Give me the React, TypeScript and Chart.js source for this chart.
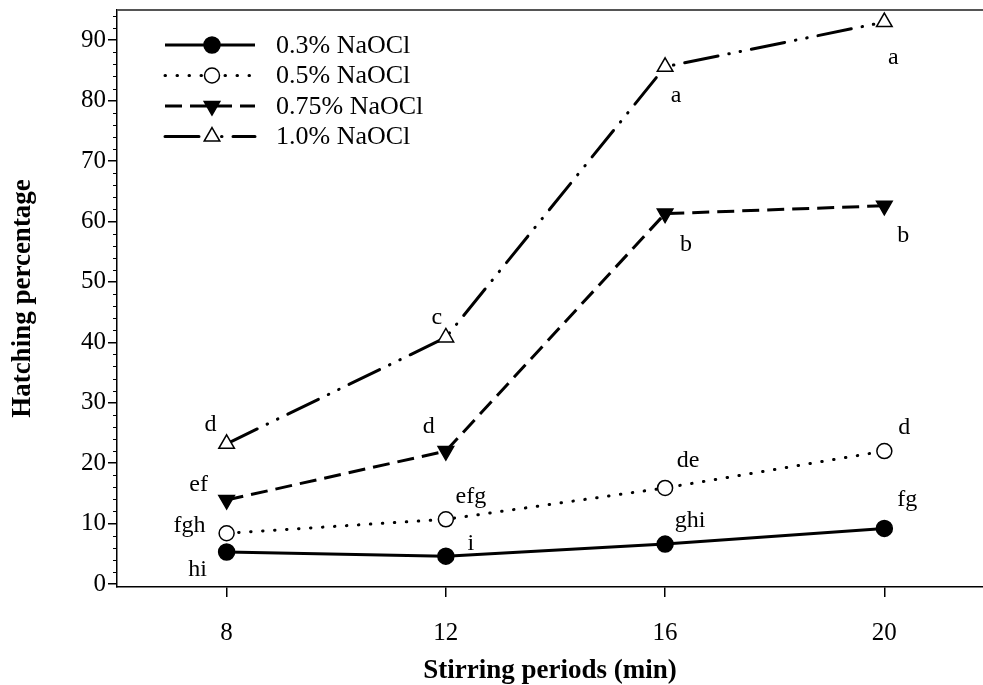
import React, { useEffect, useRef } from 'react';
import { Chart, registerables } from 'chart.js';

Chart.register(...registerables);

// ---- data ----
const stirringPeriods = [8, 12, 16, 20];
const seriesNames = ['0.3% NaOCl', '0.5% NaOCl', '0.75% NaOCl', '1.0% NaOCl'];
const naocl03 = [5.3, 4.6, 6.6, 9.2];
const naocl05 = [8.4, 10.7, 15.9, 22.0];
const naocl075 = [13.9, 22.0, 61.3, 62.6];
const naocl10 = [23.2, 40.8, 85.6, 93.0];
const letters03 = ['hi', 'i', 'ghi', 'fg'];
const letters05 = ['fgh', 'efg', 'de', 'd'];
const letters075 = ['ef', 'd', 'b', 'b'];
const letters10 = ['d', 'c', 'a', 'a'];
const yTicks = [0, 10, 20, 30, 40, 50, 60, 70, 80, 90];
const xTicks = [8, 12, 16, 20];
const xTitle = 'Stirring periods (min)';
const yTitle = 'Hatching percentage';

// ---- styles (not data) ----
const FONT = "'Liberation Serif', 'Times New Roman', serif";
const letterOffsets = [
  [[-29, 18], [25, -12], [25, -23], [23, -29]],
  [[-37, -8], [25, -23], [23, -27], [20, -23]],
  [[-28, -15], [-17, -24], [21, 31], [19, 30]],
  [[-16, -19], [-9, -20], [11, 29], [9, 36]],
];
const seriesStyles = [
  { dash: [], cap: 'butt', point: 'circle', radius: 8, fill: '#000', rot: 0 },
  { dash: [0.5, 11.5], cap: 'round', point: 'circle', radius: 7.5, fill: '#fff', rot: 0 },
  { dash: [17, 8], cap: 'butt', point: 'triangle', radius: 9, fill: '#000', rot: 180 },
  { dash: [34, 11, 0.5, 11, 0.5, 11], cap: 'round', point: 'triangle', radius: 9, fill: '#fff', rot: 0 },
];
const legendRows = [45, 75.5, 106, 136.5];

function drawMarker(ctx: CanvasRenderingContext2D, st: any, x: number, y: number) {
  ctx.save();
  ctx.setLineDash([]);
  ctx.lineWidth = 1.5;
  ctx.strokeStyle = '#000';
  ctx.fillStyle = st.fill;
  ctx.beginPath();
  const r = st.radius;
  if (st.point === 'circle') {
    ctx.arc(x, y, r, 0, Math.PI * 2);
  } else {
    let rad = (st.rot * Math.PI) / 180;
    for (let k = 0; k < 3; k++) {
      const px = x + Math.sin(rad) * r;
      const py = y - Math.cos(rad) * r;
      if (k === 0) ctx.moveTo(px, py);
      else ctx.lineTo(px, py);
      rad += (2 * Math.PI) / 3;
    }
    ctx.closePath();
  }
  ctx.fill();
  ctx.stroke();
  ctx.restore();
}

const decor = {
  id: 'decor',
  afterDraw(chart: any) {
    const ctx: CanvasRenderingContext2D = chart.ctx;
    const { left, right, top } = chart.chartArea;
    const y = chart.scales.y;
    ctx.save();
    // top frame
    ctx.strokeStyle = '#555';
    ctx.lineWidth = 2;
    ctx.beginPath();
    ctx.moveTo(left, top);
    ctx.lineTo(right, top);
    ctx.stroke();
    // minor y ticks
    ctx.strokeStyle = '#000';
    ctx.lineWidth = 1;
    for (let v = 2; v < 95; v += 2) {
      if (v % 10 === 0) continue;
      const py = Math.round(y.getPixelForValue(v)) + 0.5;
      ctx.beginPath();
      ctx.moveTo(left - 4, py);
      ctx.lineTo(left, py);
      ctx.stroke();
    }
    // letters
    const letterSets = [letters03, letters05, letters075, letters10];
    ctx.fillStyle = '#000';
    ctx.font = `24px ${FONT}`;
    ctx.textAlign = 'center';
    ctx.textBaseline = 'middle';
    letterSets.forEach((set, i) => {
      const meta = chart.getDatasetMeta(i);
      set.forEach((txt, j) => {
        const pt = meta.data[j];
        const [dx, dy] = letterOffsets[i][j];
        ctx.fillText(txt, pt.x + dx, pt.y + dy);
      });
    });
    // legend
    seriesNames.forEach((name, i) => {
      const st = seriesStyles[i];
      const ly = legendRows[i];
      ctx.save();
      ctx.strokeStyle = '#000';
      ctx.lineWidth = 3;
      ctx.lineCap = st.cap as CanvasLineCap;
      ctx.setLineDash(st.dash);
      ctx.beginPath();
      ctx.moveTo(165, ly);
      ctx.lineTo(255, ly);
      ctx.stroke();
      ctx.restore();
      drawMarker(ctx, st, 212, ly);
      ctx.fillStyle = '#000';
      ctx.font = `26px ${FONT}`;
      ctx.textAlign = 'left';
      ctx.textBaseline = 'middle';
      ctx.fillText(name, 276, ly + 1);
    });
    ctx.restore();
  },
};

export default function App() {
  const ref = useRef<HTMLCanvasElement>(null);
  useEffect(() => {
    if (!ref.current) return;
    const seriesValues = [naocl03, naocl05, naocl075, naocl10];
    const chart = new Chart(ref.current, {
      type: 'line',
      data: {
        datasets: seriesValues.map((vals, i) => {
          const st = seriesStyles[i];
          return {
            label: seriesNames[i],
            data: vals.map((v, j) => ({ x: stirringPeriods[j], y: v })),
            borderColor: '#000',
            borderWidth: 3,
            borderDash: st.dash,
            borderCapStyle: st.cap,
            pointStyle: st.point,
            pointRadius: st.radius,
            pointRotation: st.rot,
            pointBackgroundColor: st.fill,
            pointBorderColor: '#000',
            pointBorderWidth: 1.5,
            tension: 0,
            fill: false,
            clip: false,
          } as any;
        }),
      },
      options: {
        animation: false,
        responsive: false,
        devicePixelRatio: 1,
        layout: { autoPadding: false, padding: { top: 10, right: 0, left: 0, bottom: 0 } },
        plugins: { legend: { display: false }, tooltip: { enabled: false } },
        scales: {
          x: {
            type: 'linear',
            min: 6,
            max: 21.8,
            afterBuildTicks: (s: any) => {
              s.ticks = xTicks.map((v) => ({ value: v }));
            },
            afterFit: (s: any) => {
              s.height = 98;
              s.paddingLeft = 0;
              s.paddingRight = 0;
            },
            grid: { drawOnChartArea: false, drawTicks: true, tickLength: 10, color: '#000', lineWidth: 1.5 },
            border: { display: true, color: '#000', width: 1.5 },
            ticks: { color: '#000', font: { family: FONT, size: 25 }, padding: 21, maxRotation: 0 },
            title: {
              display: true,
              text: xTitle,
              color: '#000',
              font: { family: FONT, size: 27, weight: 'bold' },
              padding: { top: 0, bottom: -2 },
            },
          },
          y: {
            type: 'linear',
            min: -0.5,
            max: 95,
            afterBuildTicks: (s: any) => {
              s.ticks = yTicks.map((v) => ({ value: v }));
            },
            afterFit: (s: any) => {
              s.width = 117;
              s.paddingTop = 0;
              s.paddingBottom = 0;
            },
            grid: { drawOnChartArea: false, drawTicks: true, tickLength: 9, color: '#000', lineWidth: 1.5 },
            border: { display: true, color: '#000', width: 1.5 },
            ticks: { color: '#000', font: { family: FONT, size: 25 }, padding: 2 },
            title: {
              display: true,
              text: yTitle,
              color: '#000',
              font: { family: FONT, size: 27, weight: 'bold' },
              padding: { top: 7, bottom: 0 },
            },
          },
        },
      },
      plugins: [decor],
    });
    return () => chart.destroy();
  }, []);
  return (
    <div style={{ position: 'absolute', left: 0, top: 0, width: 983, height: 685, background: '#fff' }}>
      <canvas ref={ref} width={983} height={685} />
    </div>
  );
}
